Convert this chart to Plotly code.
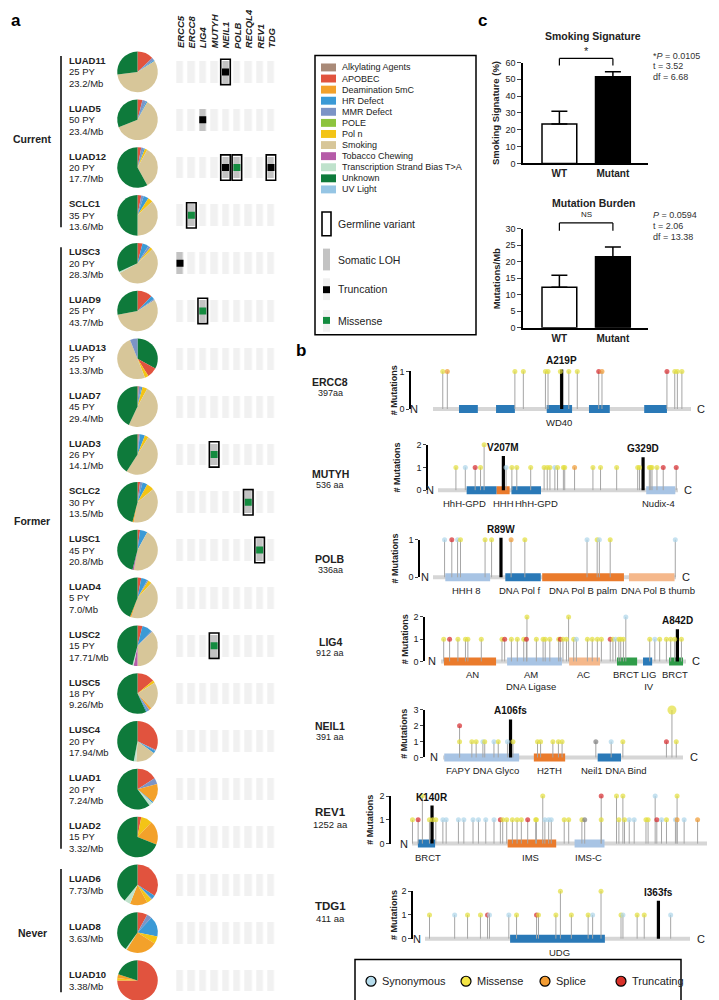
import plotly.graph_objects as go

W, H = 719, 1000
FONT = 'Liberation Sans, Arial, Helvetica, sans-serif'

# ----------------------------------------------------------------------------- dados painel a
samples = ['LUAD11', 'LUAD5', 'LUAD12', 'SCLC1', 'LUSC3', 'LUAD9', 'LUAD13', 'LUAD7', 'LUAD3', 'SCLC2',
           'LUSC1', 'LUAD4', 'LUSC2', 'LUSC5', 'LUSC4', 'LUAD1', 'LUAD2', 'LUAD6', 'LUAD8', 'LUAD10']
pack_years = [25, 50, 20, 35, 20, 25, 25, 45, 26, 30, 45, 5, 15, 18, 20, 20, 15, None, None, None]
tmb = ['23.2', '23.4', '17.7', '13.6', '28.3', '43.7', '13.3', '29.4', '14.1', '13.5', '20.8', '7.0',
       '17.71', '9.26', '17.94', '7.24', '3.32', '7.73', '3.63', '3.38']
smoking_groups = [('Current', 0, 3, 1.4), ('Former', 4, 16, 9.4), ('Never', 17, 19, 18.0)]

genes_a = ['ERCC5', 'ERCC8', 'LIG4', 'MUTYH', 'NEIL1', 'POLB', 'RECQL4', 'REV1', 'TDG']
germline = [('LUAD11', 'NEIL1'), ('LUAD12', 'NEIL1'), ('LUAD12', 'POLB'), ('LUAD12', 'TDG'), ('SCLC1', 'ERCC8'),
            ('LUAD9', 'LIG4'), ('LUAD3', 'MUTYH'), ('SCLC2', 'RECQL4'), ('LUSC1', 'REV1'), ('LUSC2', 'MUTYH')]
somatic_loh = germline + [('LUAD5', 'LIG4'), ('LUSC3', 'ERCC5')]
truncation = [('LUAD11', 'NEIL1'), ('LUAD5', 'LIG4'), ('LUAD12', 'NEIL1'), ('LUAD12', 'TDG'), ('LUSC3', 'ERCC5')]
missense = [('LUAD12', 'POLB'), ('SCLC1', 'ERCC8'), ('LUAD9', 'LIG4'), ('LUAD3', 'MUTYH'), ('SCLC2', 'RECQL4'),
            ('LUSC1', 'REV1'), ('LUSC2', 'MUTYH')]

signatures = ['Alkylating Agents', 'APOBEC', 'Deamination 5mC', 'HR Defect', 'MMR Defect', 'POLE', 'Pol n',
              'Smoking', 'Tobacco Chewing', 'Transcription Strand Bias T>A', 'Unknown', 'UV Light']
sig_colors = ['#a98a78', '#e1533e', '#f3a12a', '#3b9ad6', '#7c94c6', '#8dc43f', '#f3c416',
              '#d7c699', '#b55ba8', '#bfe2cc', '#0e7a3b', '#95c5e4']

# fatias de cada pizza, no sentido horário a partir das 12h (%)
pie_slices = [
    [('APOBEC', 13), ('MMR Defect', 2), ('HR Defect', 1), ('Smoking', 57), ('Unknown', 27)],
    [('APOBEC', 4), ('MMR Defect', 3), ('HR Defect', 1), ('Smoking', 61), ('Unknown', 31)],
    [('APOBEC', 3), ('MMR Defect', 2), ('HR Defect', 1), ('Pol n', 2), ('Smoking', 34), ('Unknown', 58)],
    [('APOBEC', 3), ('MMR Defect', 2), ('HR Defect', 4), ('Pol n', 4), ('Smoking', 37), ('Unknown', 50)],
    [('APOBEC', 4), ('HR Defect', 5), ('MMR Defect', 2), ('Pol n', 2), ('Smoking', 54),
     ('Transcription Strand Bias T>A', 1), ('Unknown', 32)],
    [('APOBEC', 12), ('HR Defect', 3), ('MMR Defect', 1), ('Smoking', 56), ('Unknown', 28)],
    [('Unknown', 33), ('APOBEC', 8), ('Pol n', 3), ('Smoking', 50), ('MMR Defect', 6)],
    [('APOBEC', 1), ('MMR Defect', 2), ('HR Defect', 1), ('Pol n', 4), ('Smoking', 49), ('Unknown', 43)],
    [('APOBEC', 1), ('MMR Defect', 1), ('HR Defect', 4), ('Pol n', 3), ('Smoking', 50), ('Unknown', 41)],
    [('APOBEC', 2), ('MMR Defect', 2), ('HR Defect', 4), ('Pol n', 6), ('Smoking', 39), ('Deamination 5mC', 1),
     ('Unknown', 46)],
    [('APOBEC', 2), ('HR Defect', 6), ('Smoking', 45), ('Tobacco Chewing', 1), ('Unknown', 46)],
    [('APOBEC', 3), ('HR Defect', 5), ('MMR Defect', 1), ('Pol n', 3), ('Smoking', 43), ('Deamination 5mC', 1),
     ('Unknown', 44)],
    [('APOBEC', 4), ('HR Defect', 8), ('MMR Defect', 1), ('Smoking', 37), ('Tobacco Chewing', 3),
     ('Transcription Strand Bias T>A', 1), ('Unknown', 46)],
    [('APOBEC', 14), ('Pol n', 2), ('Smoking', 22), ('Deamination 5mC', 2), ('MMR Defect', 2), ('HR Defect', 1),
     ('Unknown', 57)],
    [('APOBEC', 32), ('MMR Defect', 1), ('HR Defect', 2), ('Smoking', 16), ('Transcription Strand Bias T>A', 2),
     ('Unknown', 47)],
    [('APOBEC', 16), ('MMR Defect', 5), ('Deamination 5mC', 15), ('HR Defect', 1),
     ('Transcription Strand Bias T>A', 3), ('Unknown', 60)],
    [('APOBEC', 3), ('Pol n', 9), ('Deamination 5mC', 19), ('Unknown', 69)],
    [('APOBEC', 34), ('HR Defect', 3), ('MMR Defect', 1), ('Pol n', 4), ('Deamination 5mC', 14),
     ('Transcription Strand Bias T>A', 5), ('Unknown', 39)],
    [('APOBEC', 8), ('MMR Defect', 4), ('HR Defect', 16), ('Pol n', 6), ('Deamination 5mC', 25),
     ('Transcription Strand Bias T>A', 1), ('Unknown', 40)],
    [('APOBEC', 75), ('Pol n', 2), ('Deamination 5mC', 3), ('Unknown', 20)],
]

# ----------------------------------------------------------------------------- dados painel c
groups_c = ['WT', 'Mutant']
smoking_mean = [23.5, 51.5]
smoking_sem = [7.5, 3.0]
burden_mean = [12.3, 21.5]
burden_sem = [3.6, 3.0]
smoking_stats = ['*<i>P</i> = 0.0105', 't = 3.52', 'df = 6.68']
burden_stats = ['<i>P</i> = 0.0594', 't = 2.06', 'df = 13.38']

# ----------------------------------------------------------------------------- dados painel b
gene_order = ['ERCC8', 'MUTYH', 'POLB', 'LIG4', 'NEIL1', 'REV1', 'TDG1']
protein_len = {'ERCC8': 397, 'MUTYH': 536, 'POLB': 336, 'LIG4': 912, 'NEIL1': 391, 'REV1': 1252, 'TDG1': 411}
len_text = {'ERCC8': '397aa', 'MUTYH': '536 aa', 'POLB': '336aa', 'LIG4': '912 aa', 'NEIL1': '391 aa',
            'REV1': '1252 aa', 'TDG1': '411 aa'}
max_count = {'ERCC8': 1, 'MUTYH': 2, 'POLB': 1, 'LIG4': 2, 'NEIL1': 3, 'REV1': 2, 'TDG1': 2}

# domínios: (início, fim, cor)
domains = {
    'ERCC8': [(40, 69, 'blue'), (97, 126, 'blue'), (175, 214, 'blue'), (240, 272, 'blue'), (325, 360, 'blue')],
    'MUTYH': [(64, 131, 'blue'), (131, 160, 'orange'), (164, 230, 'blue'), (465, 530, 'lblue')],
    'POLB': [(17, 79, 'lblue'), (100, 149, 'blue'), (151, 264, 'orange'), (271, 334, 'lorange')],
    'LIG4': [(11, 205, 'orange'), (246, 450, 'lblue'), (477, 592, 'lorange'), (655, 730, 'green'),
             (752, 786, 'blue'), (849, 901, 'green')],
    'NEIL1': [(2, 124, 'lblue'), (148, 199, 'orange'), (252, 290, 'blue')],
    'REV1': [(25, 98, 'blue'), (406, 612, 'orange'), (690, 817, 'lblue')],
    'TDG1': [(132, 279, 'blue')],
}
domain_labels = {
    'ERCC8': [('WD40', 194)],
    'MUTYH': [('HhH-GPD', 60), ('HHH', 146), ('HhH-GPD', 221), ('Nudix-4', 492)],
    'POLB': [('HHH 8', 46), ('DNA Pol f', 120), ('DNA Pol B palm', 207), ('DNA Pol B thumb', 311)],
    'LIG4': [('AN', 119), ('AM<br>DNA Ligase', 335), ('AC', 529), ('BRCT', 689), ('LIG<br>IV', 774),
             ('BRCT', 871)],
    'NEIL1': [('FAPY DNA Glyco', 65), ('H2TH', 174), ('Neil1 DNA Bind', 277)],
    'REV1': [('BRCT', 66), ('IMS', 505), ('IMS-C', 751)],
    'TDG1': [('UDG', 209)],
}

# mutações: (posição, nº de mutações, tipo)
muts = {
    'ERCC8': [(15, 1, 'mis'), (22, 1, 'spl'), (126, 1, 'mis'), (139, 1, 'mis'), (173, 1, 'mis'), (177, 1, 'mis'),
              (196, 1, 'mis'), (209, 1, 'mis'), (222, 1, 'mis'), (255, 1, 'trunc'), (260, 1, 'spl'),
              (360, 1, 'trunc'), (372, 1, 'mis'), (376, 1, 'mis'), (383, 1, 'mis')],
    'MUTYH': [(40, 1, 'mis'), (61, 1, 'syn'), (83, 1, 'trunc'), (95, 1, 'mis'), (103, 2, 'mis'), (152, 1, 'syn'),
              (165, 1, 'mis'), (176, 1, 'mis'), (207, 1, 'mis'), (237, 1, 'mis'), (244, 1, 'mis'), (250, 1, 'mis'),
              (261, 1, 'syn'), (267, 1, 'mis'), (280, 1, 'mis'), (283, 1, 'mis'), (305, 1, 'spl'), (346, 1, 'mis'),
              (363, 1, 'mis'), (399, 1, 'mis'), (446, 1, 'mis'), (450, 1, 'mis'), (472, 1, 'mis'), (475, 1, 'mis'),
              (478, 1, 'mis'), (489, 1, 'mis'), (503, 1, 'trunc'), (532, 1, 'trunc')],
    'POLB': [(16, 1, 'syn'), (26, 1, 'trunc'), (34, 1, 'syn'), (38, 1, 'mis'), (72, 1, 'mis'), (81, 1, 'mis'),
             (108, 1, 'spl'), (127, 1, 'mis'), (213, 1, 'syn'), (227, 1, 'mis'), (230, 1, 'syn'), (245, 1, 'mis'),
             (335, 1, 'syn')],
    'LIG4': [(10, 1, 'mis'), (32, 1, 'trunc'), (63, 1, 'mis'), (91, 1, 'mis'), (100, 1, 'mis'), (150, 1, 'mis'),
             (227, 1, 'mis'), (237, 1, 'trunc'), (262, 1, 'mis'), (284, 1, 'mis'), (308, 1, 'mis'),
             (318, 1, 'trunc'), (320, 2, 'mis'), (355, 1, 'mis'), (380, 1, 'mis'), (388, 1, 'mis'), (405, 1, 'mis'),
             (438, 1, 'mis'), (444, 1, 'trunc'), (454, 1, 'mis'), (467, 1, 'mis'), (475, 2, 'mis'), (494, 1, 'mis'),
             (504, 1, 'syn'), (545, 1, 'mis'), (563, 1, 'mis'), (582, 1, 'mis'), (597, 1, 'mis'), (630, 1, 'trunc'),
             (640, 1, 'mis'), (650, 1, 'syn'), (662, 1, 'mis'), (669, 1, 'mis'), (679, 1, 'mis'), (688, 2, 'syn'),
             (777, 1, 'mis'), (796, 1, 'syn'), (814, 1, 'mis'), (839, 1, 'mis'), (855, 1, 'mis'), (870, 1, 'mis'),
             (895, 1, 'mis')],
    'NEIL1': [(27, 2, 'trunc'), (27, 1, 'mis'), (47, 1, 'mis'), (54, 1, 'mis'), (65, 1, 'syn'), (68, 1, 'mis'),
              (83, 1, 'syn'), (90, 1, 'mis'), (105, 1, 'syn'), (114, 1, 'mis'), (154, 1, 'mis'), (159, 1, 'mis'),
              (179, 1, 'mis'), (188, 1, 'mis'), (194, 1, 'mis'), (249, 1, 'oth'), (274, 1, 'syn'), (293, 1, 'mis'),
              (364, 1, 'trunc'), (373, 3, 'mis'), (380, 1, 'mis')],
    'REV1': [(2, 1, 'mis'), (26, 1, 'trunc'), (44, 2, 'mis'), (74, 1, 'mis'), (88, 1, 'mis'), (101, 1, 'mis'),
             (131, 1, 'syn'), (145, 1, 'syn'), (197, 1, 'syn'), (220, 1, 'syn'), (259, 1, 'syn'), (282, 1, 'syn'),
             (313, 1, 'syn'), (348, 1, 'syn'), (375, 1, 'trunc'), (385, 1, 'mis'), (402, 1, 'mis'), (426, 1, 'mis'),
             (446, 1, 'mis'), (464, 1, 'mis'), (491, 1, 'trunc'), (525, 1, 'mis'), (528, 1, 'mis'), (555, 2, 'mis'),
             (564, 1, 'syn'), (580, 1, 'syn'), (591, 1, 'syn'), (646, 1, 'mis'), (665, 1, 'mis'), (721, 1, 'mis'),
             (733, 1, 'oth'), (803, 2, 'trunc'), (803, 1, 'mis'), (868, 2, 'mis'), (878, 1, 'mis'), (895, 2, 'mis'),
             (902, 1, 'mis'), (922, 1, 'syn'), (943, 1, 'syn'), (993, 1, 'mis'), (1002, 1, 'mis'), (1032, 2, 'syn'),
             (1039, 1, 'trunc'), (1059, 1, 'syn'), (1080, 1, 'mis'), (1118, 1, 'syn'), (1125, 2, 'mis'),
             (1125, 1, 'spl'), (1155, 1, 'syn'), (1212, 1, 'spl')],
    'TDG1': [(7, 1, 'mis'), (46, 1, 'syn'), (66, 1, 'mis'), (86, 1, 'mis'), (97, 1, 'trunc'), (100, 1, 'syn'),
             (130, 1, 'syn'), (142, 1, 'mis'), (173, 1, 'trunc'), (176, 1, 'mis'), (203, 1, 'mis'), (210, 2, 'mis'),
             (227, 1, 'mis'), (253, 1, 'mis'), (260, 1, 'syn'), (273, 2, 'mis'), (304, 1, 'mis'), (307, 1, 'syn'),
             (329, 1, 'mis'), (340, 1, 'mis'), (381, 1, 'syn')],
}
# variantes germinativas destacadas: (rótulo, posição, altura)
highlights = {
    'ERCC8': [('A219P', 198, 1.05)],
    'MUTYH': [('V207M', 146, 1.5), ('G329D', 458, 1.45)],
    'POLB': [('R89W', 94, 1.05)],
    'LIG4': [('A842D', 880, 1.45)],
    'NEIL1': [('A106fs', 110, 2.4)],
    'REV1': [('K140R', 85, 1.6)],
    'TDG1': [('I363fs', 362, 1.6)],
}
mut_types = ['Synonymous', 'Missense', 'Splice', 'Truncating']

# ----------------------------------------------------------------------------- estilos / geometria
MUT_COLORS = {'syn': '#aed5e9', 'mis': '#e3de3c', 'spl': '#f09a30', 'trunc': '#d5282b', 'oth': '#7d7d7d'}
LEGEND_MUT_COLORS = ['#b6dcec', '#f4e545', '#f39c33', '#d9322a']
DOMAIN_COLORS = {'blue': '#2a79b7', 'orange': '#ea7b2c', 'lblue': '#a8c4e4', 'lorange': '#f5b88b', 'green': '#2f9c49'}

# posições em pixels de cada painel de pirulito
GEOM = {
    'ERCC8': dict(axis=403, start=425, end=683, base=400, unit=38, title_x=386, name_y=373, n_x=412, c_x=687),
    'MUTYH': dict(axis=420, start=430, end=670, base=482, unit=23, title_x=389, name_y=466, n_x=428, c_x=674),
    'POLB': dict(axis=412, start=425, end=668, base=570, unit=38, title_x=387, name_y=552, n_x=423, c_x=672),
    'LIG4': dict(axis=417, start=433, end=678, base=655, unit=22.5, title_x=397, name_y=635, n_x=430, c_x=682),
    'NEIL1': dict(axis=417, start=435, end=675, base=752, unit=16, title_x=396, name_y=720, n_x=432, c_x=680),
    'REV1': dict(axis=383, start=404, end=699, base=839, unit=24, title_x=362, name_y=807, n_x=402, c_x=702),
    'TDG1': dict(axis=405, start=417, end=682, base=935, unit=24, title_x=386, name_y=902, n_x=415, c_x=687),
}

ROW0, ROW_STEP = 59.5, 48.3
PIE_X, PIE_R = 129.5, 20.5


def px(x):
    return x / W


def py(y):
    return 1 - y / H


def row_y(i):
    return ROW0 + i * ROW_STEP


fig = go.Figure()


def text(t, x, y, size=9.5, color='#222222', xa='center', ya='middle', xref='paper', yref='paper', angle=0):
    fig.add_annotation(text=t, x=x, y=y, xref=xref, yref=yref, showarrow=False, xanchor=xa, yanchor=ya,
                       textangle=angle, font=dict(family=FONT, size=size, color=color))


def pline(x0, y0, x1, y1, width=1.5, color='black'):
    fig.add_shape(type='line', xref='paper', yref='paper', x0=px(x0), y0=py(y0), x1=px(x1), y1=py(y1),
                  line=dict(color=color, width=width))


def prect(x0, y0, x1, y1, fill=None, line_w=0, line_c='black'):
    fig.add_shape(type='rect', xref='paper', yref='paper', x0=px(x0), y0=py(y0), x1=px(x1), y1=py(y1),
                  fillcolor=fill if fill else 'rgba(0,0,0,0)', line=dict(color=line_c, width=line_w))


sig_color = dict(zip(signatures, sig_colors))

# ----------------------------------------------------------------------------- painel a: pizzas e textos
for i, name in enumerate(samples):
    cy = row_y(i)
    labels = [c for c, v in pie_slices[i]]
    fig.add_trace(go.Pie(
        labels=labels, values=[v for c, v in pie_slices[i]],
        sort=False, direction='clockwise', rotation=0,
        marker=dict(colors=[sig_color[c] for c in labels], line=dict(width=0)),
        textinfo='none', hoverinfo='label+percent', showlegend=False,
        domain=dict(x=[px(PIE_X - PIE_R), px(PIE_X + PIE_R)], y=[py(cy + PIE_R), py(cy - PIE_R)]),
    ))
    lines = [f'<b>{name}</b>']
    if pack_years[i] is not None:
        lines.append(f'{pack_years[i]} PY')
    lines.append(f'{tmb[i]}/Mb')
    offs = [-11.5, 0, 11.5] if len(lines) == 3 else [-6, 6]
    for t, o in zip(lines, offs):
        text(t, px(59), py(cy + o), size=9.5, xa='left')

# colchetes dos grupos de tabagismo
for label, first, last, lab_row in smoking_groups:
    pline(53, row_y(first) - 16, 53, row_y(last) + 12, width=1.5)
    text(f'<b>{label}</b>', px(24), py(row_y(lab_row)), size=10.5)

# grade de genes (heatmap = células cinza / LOH)
z = [[0] * len(genes_a) for _ in samples]
for s, g in somatic_loh:
    z[samples.index(s)][genes_a.index(g)] = 1
fig.add_trace(go.Heatmap(
    z=z, x=list(range(len(genes_a))), y=list(range(len(samples))),
    colorscale=[[0, '#f1f1f1'], [1, '#c3c3c3']], zmin=0, zmax=1, showscale=False,
    xgap=4.4, ygap=26, hoverinfo='skip', xaxis='x', yaxis='y',
))
for pairs, col in [(truncation, 'black'), (missense, '#138b3f')]:
    fig.add_trace(go.Scatter(
        x=[genes_a.index(g) for s, g in pairs], y=[samples.index(s) for s, g in pairs],
        mode='markers', marker=dict(symbol='square', size=7, color=col, line=dict(width=0)),
        hoverinfo='skip', showlegend=False, xaxis='x', yaxis='y',
    ))
for s, g in germline:
    gi, si = genes_a.index(g), samples.index(s)
    fig.add_shape(type='rect', xref='x', yref='y', x0=gi - 0.42, x1=gi + 0.42, y0=si - 0.265, y1=si + 0.265,
                  line=dict(color='black', width=1.6))
for gi, g in enumerate(genes_a):
    text(f'<b><i>{g}</i></b>', gi, py(38), size=9.5, xref='x', ya='bottom', angle=-90)

grid_top = 35.35
fig.update_layout(
    xaxis=dict(domain=[px(172 - 5.69), px(263 + 5.69)], range=[-0.5, 8.5], visible=False, anchor='y',
               fixedrange=True),
    yaxis=dict(domain=[0, py(grid_top)], range=[-0.5 + (H - grid_top) / ROW_STEP, -0.5], visible=False,
               anchor='x', fixedrange=True),
)

# legenda do painel a
prect(307, 43, 468, 325, line_w=1.5)
for k, (sig, col) in enumerate(zip(signatures, sig_colors)):
    yy = 55 + k * 11.2
    prect(313, yy - 4, 328, yy + 4, fill=col)
    text(sig, px(332), py(yy), size=9, xa='left')
prect(314, 201, 323, 225, line_w=1.6)
prect(315, 238, 322, 260, fill='#c3c3c3')
prect(315, 268, 322, 290, fill='#f1f1f1')
prect(315, 276, 322, 283, fill='black')
prect(315, 300, 322, 322, fill='#f1f1f1')
prect(315, 307, 322, 314, fill='#138b3f')
for t, yy in [('Germline variant', 213), ('Somatic LOH', 249), ('Truncation', 279), ('Missense', 311)]:
    text(t, px(328), py(yy), size=10.5, xa='left')

# ----------------------------------------------------------------------------- painel c: barras
for n, (means, sems, dom, yr, dt, title, ytitle, stats, title_y, stat_y, sig_txt, br) in enumerate([
    (smoking_mean, smoking_sem, (152, 50), 60, 10, 'Smoking Signature', 'Smoking Signature (%)', smoking_stats,
     23, 43, '*', (0.97, 1.04, 1.11)),
    (burden_mean, burden_sem, (318, 218), 30, 5, 'Mutation Burden', 'Mutations/Mb', burden_stats,
     192, 204, 'NS', (0.98, 1.06, 1.14)),
]):
    ax = n + 2
    fig.add_trace(go.Bar(
        x=[0, 1], y=means, width=0.65,
        marker=dict(color=['white', 'black'], line=dict(color='black', width=1.5)),
        error_y=dict(type='data', array=sems, arrayminus=[0, 0], symmetric=False, color='black',
                     thickness=1.5, width=8),
        hoverinfo='skip', showlegend=False, xaxis=f'x{ax}', yaxis=f'y{ax}',
    ))
    fig.update_layout(**{
        f'xaxis{ax}': dict(domain=[px(515), px(640)], range=[-0.68, 1.656], anchor=f'y{ax}',
                           tickvals=[0, 1], ticktext=[f'<b>{g}</b>' for g in groups_c], ticks='',
                           showline=True, linecolor='black', linewidth=1.5, showgrid=False, zeroline=False,
                           tickfont=dict(size=10, color='#222222', family=FONT), fixedrange=True),
        f'yaxis{ax}': dict(domain=[py(dom[0]), py(dom[1])], range=[0, yr], dtick=dt, anchor=f'x{ax}',
                           ticks='outside', ticklen=4, tickwidth=1.2, showline=True, linecolor='black',
                           linewidth=1.5, showgrid=False, zeroline=False,
                           tickfont=dict(size=9, color='#222222', family=FONT), fixedrange=True),
    })
    # colchete de significância
    lo, hi, ty = br
    for x0, y0, x1, y1 in [(0, lo, 0, hi), (0, hi, 1, hi), (1, hi, 1, lo)]:
        fig.add_shape(type='line', xref=f'x{ax}', yref=f'y{ax} domain', x0=x0, y0=y0, x1=x1, y1=y1,
                      line=dict(color='black', width=1.2))
    text(sig_txt, 0.5, ty, size=11 if sig_txt == '*' else 8, xref=f'x{ax}', yref=f'y{ax} domain', ya='middle')
    text(f'<b>{title}</b>', px(585), py(title_y), size=10.5)
    text(f'<b>{ytitle}</b>', px(488), py((dom[0] + dom[1]) / 2), size=9.5, angle=-90)
    for j, s in enumerate(stats):
        text(s, px(643), py(stat_y + j * 11), size=9, xa='left', color='#333333')

# ----------------------------------------------------------------------------- painel b: pirulitos
for gi, g in enumerate(gene_order):
    gm = GEOM[g]
    L = protein_len[g]
    M = max_count[g]
    k = (gm['end'] - gm['start']) / L
    xn, yn, yd = 4 + gi, 4 + gi, 11 + gi
    xa, ya = f'x{xn}', f'y{yn}'
    pad_b, pad_t = 10, 16
    fig.update_layout(**{
        f'xaxis{xn}': dict(domain=[px(gm['axis']), px(gm['end'] + 3)],
                           range=[(gm['axis'] - gm['start']) / k, L + 3 / k], visible=False, anchor=ya,
                           fixedrange=True),
        f'yaxis{yn}': dict(domain=[py(gm['base'] + pad_b), py(gm['base'] - M * gm['unit'] - pad_t)],
                           range=[-pad_b / gm['unit'], M + pad_t / gm['unit']], visible=False, anchor=xa,
                           fixedrange=True),
        f'yaxis{yd}': dict(domain=[py(gm['base']), py(gm['base'] - M * gm['unit'])], range=[0, M],
                           tickvals=list(range(M + 1)), anchor=xa, ticks='outside', ticklen=3, tickwidth=1,
                           showline=True, linecolor='black', linewidth=1.6, showgrid=False, zeroline=False,
                           tickfont=dict(size=9, color='#222222', family=FONT), fixedrange=True),
    })
    # eixo de exibição precisa de um traço para ser desenhado
    fig.add_trace(go.Scatter(x=[None], y=[None], mode='markers', xaxis=xa, yaxis=f'y{yd}', showlegend=False,
                             hoverinfo='skip'))

    common = dict(xaxis=xa, yaxis=ya, showlegend=False, hoverinfo='skip')
    # espinha da proteína
    fig.add_trace(go.Scatter(x=[0, L], y=[0, 0], mode='lines', line=dict(color='#d6d6d6', width=4), **common))
    for d0, d1, c in domains[g]:
        fig.add_trace(go.Scatter(x=[d0, d1], y=[0, 0], mode='lines',
                                 line=dict(color=DOMAIN_COLORS[c], width=8), **common))
    # hastes
    sx, sy = [], []
    for p, cnt, kind in muts[g]:
        sx += [p, p, None]
        sy += [0, cnt, None]
    fig.add_trace(go.Scatter(x=sx, y=sy, mode='lines', line=dict(color='#a5a5a5', width=1), **common))
    # variantes germinativas
    for lab, p, h in highlights[g]:
        fig.add_trace(go.Scatter(x=[p, p], y=[0, h], mode='lines', line=dict(color='black', width=3.2), **common))
        fig.add_annotation(text=f'<b>{lab}</b>', x=p, y=h, xref=xa, yref=ya, yanchor='bottom', showarrow=False,
                           yshift=1, font=dict(family=FONT, size=10, color='#111111'))
    # cabeças
    fig.add_trace(go.Scatter(
        x=[p for p, c, t in muts[g]], y=[c for p, c, t in muts[g]], mode='markers',
        marker=dict(color=[MUT_COLORS[t] for p, c, t in muts[g]],
                    size=[9 if c >= 3 else 5 for p, c, t in muts[g]], line=dict(width=0)),
        **common))

    # textos
    for lab, xpos in domain_labels[g]:
        text(lab, xpos, py(gm['base'] + 6), size=9.5, xref=xa, ya='top', color='#222222')
    text('N', px(gm['n_x']), py(gm['base']), size=11, xa='right')
    text('C', px(gm['c_x']), py(gm['base']), size=11, xa='left')
    text('<b># Mutations</b>', px(gm['title_x']), py(gm['base'] - M * gm['unit'] / 2), size=9, angle=-90)
    big = g in ('REV1', 'TDG1')
    text(f'<b>{g}</b>', px(322), py(gm['name_y']), size=11.5 if big else 10.5)
    text(len_text[g], px(322), py(gm['name_y'] + (13 if big else 11)), size=9.5 if big else 9)

# legenda dos tipos de mutação
prect(347, 956, 673, 998, line_w=1.5)
for t, col, cx in zip(mut_types, LEGEND_MUT_COLORS, [363, 458, 537, 613]):
    fig.add_shape(type='circle', xref='paper', yref='paper', x0=px(cx - 5), x1=px(cx + 5), y0=py(983), y1=py(973),
                  fillcolor=col, line=dict(color='black', width=1.2))
    text(t, px(cx + 9), py(978), size=11, xa='left')

# letras dos painéis
text('<b>a</b>', px(8), py(8), size=17, color='black')
text('<b>b</b>', px(293), py(341), size=17, color='black')
text('<b>c</b>', px(474), py(8), size=17, color='black')

fig.update_layout(
    width=W, height=H,
    margin=dict(l=0, r=0, t=0, b=0),
    paper_bgcolor='white',
    plot_bgcolor='rgba(0,0,0,0)',
    showlegend=False,
    font=dict(family=FONT, color='#222222'),
)

fig.write_html('out.html')
